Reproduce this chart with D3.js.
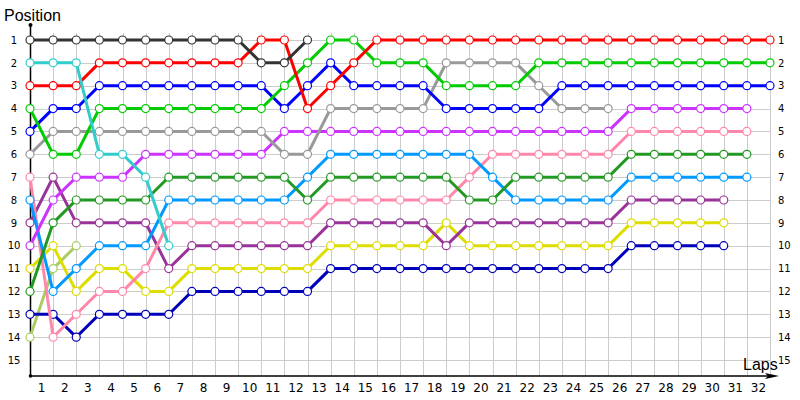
<!DOCTYPE html>
<html lang="en">
<head>
    <meta charset="UTF-8">
    <title>Lap chart</title>
    <script src="https://d3js.org/d3.v7.min.js"></script>
    <style>
        body { margin: 0; background: white; }
        svg { display: block; }
        text { font-family: "Liberation Sans", Arial, sans-serif; }
    </style>
</head>
<body>
    <svg></svg>
    <script>
        var width = 800, height = 400;
        var svg = d3.select("svg").attr("width", width).attr("height", height);

        // Data: position of each driver per lap, lap 0 = start
        var laps = d3.range(0, 33);
        var lapLabels = d3.range(1, 33);
        var positions = d3.range(1, 16);

        var darkGray  = [1,1,1,1,1,1,1,1,1,1,2,2,1];
        var red       = [3,3,3,2,2,2,2,2,2,2,1,1,4,3,2,1,1,1,1,1,1,1,1,1,1,1,1,1,1,1,1,1,1];
        var cyan      = [2,2,2,6,6,7,10];
        var green     = [4,6,6,4,4,4,4,4,4,4,4,3,2,1,1,2,2,2,3,3,3,3,2,2,2,2,2,2,2,2,2,2,2];
        var blue      = [5,4,4,3,3,3,3,3,3,3,3,4,3,2,3,3,3,3,4,4,4,4,4,3,3,3,3,3,3,3,3,3,3];
        var gray      = [6,5,5,5,5,5,5,5,5,5,5,6,6,4,4,4,4,4,2,2,2,2,3,4,4,4];
        var magenta   = [10,8,7,7,7,6,6,6,6,6,6,5,5,5,5,5,5,5,5,5,5,5,5,5,5,5,4,4,4,4,4,4];
        var darkGreen = [12,9,8,8,8,8,7,7,7,7,7,7,8,7,7,7,7,7,7,8,8,7,7,7,7,7,6,6,6,6,6,6];
        var lightBlue = [8,12,11,10,10,10,8,8,8,8,8,8,7,6,6,6,6,6,6,6,7,8,8,8,8,8,7,7,7,7,7,7];
        var pink      = [7,14,13,12,12,11,9,9,9,9,9,9,9,8,8,8,8,8,8,7,6,6,6,6,6,6,5,5,5,5,5,5];
        var purple    = [9,7,9,9,9,9,11,10,10,10,10,10,10,9,9,9,9,9,10,9,9,9,9,9,9,9,8,8,8,8,8];
        var yellow    = [11,10,12,11,11,12,12,11,11,11,11,11,11,10,10,10,10,10,9,10,10,10,10,10,10,10,9,9,9,9,9];
        var olive     = [14,11,10];
        var navy      = [13,13,14,13,13,13,13,12,12,12,12,12,12,11,11,11,11,11,11,11,11,11,11,11,11,11,10,10,10,10,10];

        // drawn in this order, last one on top
        var drivers = [
            {color: "#aacc66", pos: olive},
            {color: "#0000bb", pos: navy},
            {color: "#dddd00", pos: yellow},
            {color: "#993399", pos: purple},
            {color: "#ff88aa", pos: pink},
            {color: "#0099ff", pos: lightBlue},
            {color: "#229922", pos: darkGreen},
            {color: "#cc33ff", pos: magenta},
            {color: "#999999", pos: gray},
            {color: "#0000ff", pos: blue},
            {color: "#00cc00", pos: green},
            {color: "#ff0000", pos: red},
            {color: "#33cccc", pos: cyan},
            {color: "#333333", pos: darkGray}
        ];

        var x = d3.scaleLinear().domain([0, 32]).range([30, 770]);
        var y = d3.scaleLinear().domain([1, 15]).range([40, 360]);
        var xBand = d3.scaleBand().domain(lapLabels).range([x(0), x(32)]);
        var axisY = 376;

        // Grid
        var grid = svg.append("g").attr("stroke", "#cccccc").attr("stroke-width", 1);
        grid.selectAll("line.v").data(laps).enter().append("line")
            .attr("x1", d => Math.round(x(d)) + 0.5).attr("x2", d => Math.round(x(d)) + 0.5)
            .attr("y1", 33).attr("y2", axisY);
        grid.selectAll("line.h").data(positions).enter().append("line")
            .attr("class", "h")
            .attr("x1", x(0)).attr("x2", x(32))
            .attr("y1", d => Math.round(y(d)) + 0.5).attr("y2", d => Math.round(y(d)) + 0.5);

        // Position labels left and right
        svg.append("g").attr("transform", "translate(14,0)")
            .call(d3.axisLeft(y).tickValues(positions).tickSize(0).tickPadding(0))
            .call(g => g.select(".domain").remove())
            .call(g => g.selectAll("text").attr("text-anchor", "middle")
                .style("font-family", "'DejaVu Sans', Verdana, sans-serif").style("font-size", "10px").attr("fill", "#000"));
        svg.append("g").attr("transform", "translate(778,0)")
            .call(d3.axisRight(y).tickValues(positions).tickSize(0).tickPadding(0))
            .call(g => g.select(".domain").remove())
            .call(g => g.selectAll("text").attr("text-anchor", "start")
                .style("font-family", "'DejaVu Sans', Verdana, sans-serif").style("font-size", "10px").attr("fill", "#000"));

        // Lap labels
        svg.append("g").attr("transform", "translate(0," + axisY + ")")
            .call(d3.axisBottom(xBand).tickSize(0).tickPadding(7))
            .call(g => g.select(".domain").remove())
            .call(g => g.selectAll("text").style("font-family", "'DejaVu Sans', Verdana, sans-serif")
                .style("font-size", "12px").attr("fill", "#000"));

        // Axes lines
        svg.append("line").attr("x1", 30.5).attr("x2", 30.5).attr("y1", 25).attr("y2", axisY)
            .attr("stroke", "#000").attr("stroke-width", 1.5);
        svg.append("line").attr("x1", 30).attr("x2", 772).attr("y1", axisY).attr("y2", axisY)
            .attr("stroke", "#000").attr("stroke-width", 1.5);
        svg.append("circle").attr("cx", 30.5).attr("cy", 25).attr("r", 2).attr("fill", "#000");
        svg.append("circle").attr("cx", 30.5).attr("cy", axisY).attr("r", 1.8).attr("fill", "#000");
        svg.append("path").attr("d", "M765," + (axisY - 3) + " L779," + axisY + " L765," + (axisY + 3) + " L768," + axisY + " Z")
            .attr("fill", "#000");

        svg.append("text").attr("x", 4).attr("y", 21).style("font-size", "16px").text("Position");
        svg.append("text").attr("x", 743).attr("y", 370).style("font-size", "16px").text("Laps");

        // Lines and markers
        var line = d3.line().x((d, i) => x(i)).y(d => y(d));
        var series = svg.append("g").selectAll("g").data(drivers).enter().append("g");
        series.append("path")
            .attr("d", d => line(d.pos))
            .attr("fill", "none")
            .attr("stroke", d => d.color)
            .attr("stroke-width", 3);
        series.selectAll("circle").data(d => d.pos.map(p => ({p: p, color: d.color})))
            .enter().append("circle")
            .attr("cx", (d, i) => x(i))
            .attr("cy", d => y(d.p))
            .attr("r", 4)
            .attr("fill", "white")
            .attr("stroke", d => d.color)
            .attr("stroke-width", 1.2);
    </script>
</body>
</html>
